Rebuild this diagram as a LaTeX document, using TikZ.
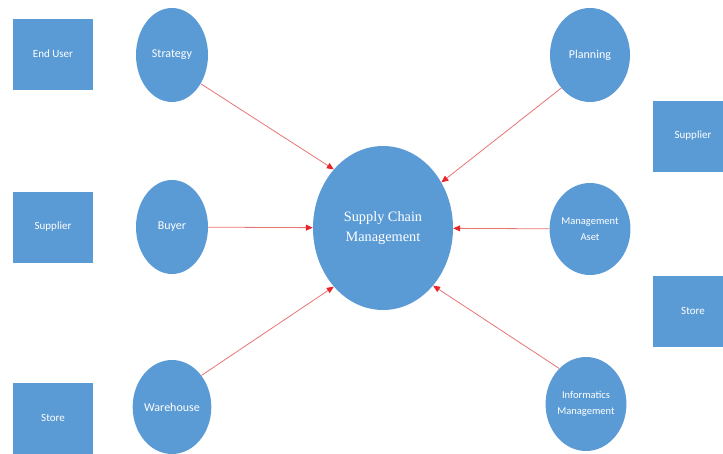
\documentclass[tikz,border=0pt]{standalone}
\usepackage{fontspec}
\setmainfont{Carlito}
\newfontfamily\serifx{Liberation Serif}
\usetikzlibrary{shapes.geometric,arrows.meta}
\definecolor{obl}{HTML}{5B9BD5}
\definecolor{arred}{HTML}{E8262A}
\definecolor{linered}{HTML}{E87474}
\tikzset{
  box/.style={rectangle,fill=obl,minimum width=80pt,minimum height=71pt,inner sep=0pt,text=white,font=\fontsize{11}{13}\selectfont,align=center},
  oval/.style={ellipse,fill=obl,inner sep=0pt,text=white,font=\fontsize{12}{14}\selectfont,align=center},
  arr/.style={draw=linered,line width=0.8pt,-{Triangle[length=7pt,width=6pt,color=arred]}}
}
\begin{document}
\begin{tikzpicture}[x=1pt,y=-1pt]
\useasboundingbox (0,0) rectangle (723,453);
\node[box] (enduser) at (53,54) {End User};
\node[box] (supl) at (53,227) {Supplier};
\node[box] (storel) at (53,418) {Store};
\node[box] (suplr) at (693,136) {Supplier};
\node[box] (storer) at (693,311) {Store};
\node[oval,minimum width=72pt,minimum height=94pt] (strategy) at (172,55) {Strategy};
\node[oval,minimum width=72pt,minimum height=94pt] (buyer) at (172,227) {Buyer};
\node[oval,minimum width=72pt,minimum height=94pt] (warehouse) at (172,407) {Warehouse};
\node[oval,minimum width=80pt,minimum height=94pt] (planning) at (590,55) {Planning};
\node[oval,minimum width=80pt,minimum height=92pt,font=\fontsize{10.5}{16}\selectfont] (aset) at (590,229) {Management\\Aset};
\node[oval,minimum width=74pt,minimum height=94pt,font=\fontsize{10.5}{16}\selectfont] (info) at (586,404) {Informatics\\Management};
\node[oval,minimum width=140pt,minimum height=164pt,font=\serifx\fontsize{14.3}{20}\selectfont] (scm) at (383,228) {Supply Chain\\Management};
\draw[arr] (strategy.-45) -- (scm.130);
\draw[arr] (buyer) -- (scm);
\draw[arr] (warehouse.47) -- (scm.230);
\draw[arr] (planning.229) -- (scm.38);
\draw[arr] (aset) -- (scm);
\draw[arr] (info.127) -- (scm.311);
\end{tikzpicture}
\end{document}
